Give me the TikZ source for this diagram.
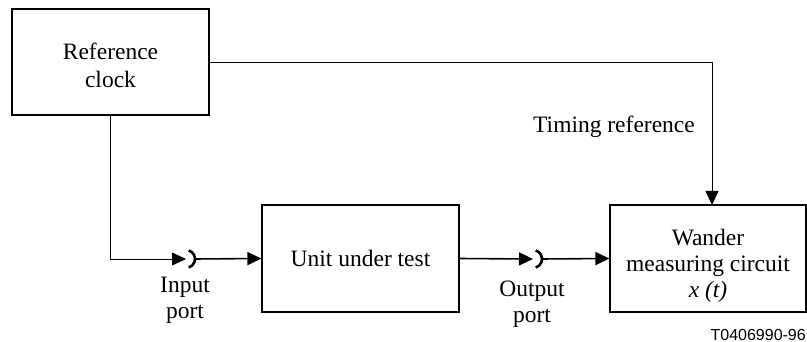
\documentclass[tikz,border=0pt]{standalone}
\usepackage{fontspec}
\setmainfont{Liberation Serif}
\newfontfamily\sansf{Liberation Sans}
\usetikzlibrary{arrows.meta}
\begin{document}
\begin{tikzpicture}[x=1pt,y=-1pt,
  box/.style={draw,line width=1.2pt,align=center,inner sep=0pt,font=\fontsize{23.5}{26}\selectfont},
  lbl/.style={align=center,inner sep=0pt,font=\fontsize{23.5}{26}\selectfont},
  arr/.style={line width=1.6pt,-{Triangle[length=14pt,width=13pt]}},
  thinarr/.style={line width=0.8pt,-{Triangle[length=14pt,width=13pt]}},
  portarc/.style={line width=2.6pt}]
\useasboundingbox (0,0) rectangle (807,342);
\node[box,minimum width=197pt,minimum height=106pt,text height=52pt] (clock) at (110.5,62) {Reference\\[2pt]clock};
\node[box,minimum width=197pt,minimum height=107pt] (uut) at (360.5,258.5) {Unit under test};
\node[box,minimum width=196pt,minimum height=107pt,text height=84pt] (wander) at (708,258.5) {Wander\\measuring circuit\\\textit{x (t)}};
\coordinate (inport) at (186,259);
\coordinate (inR) at (194,259);
\coordinate (outport) at (533,259);
\coordinate (outR) at (541,259);
\coordinate (tref) at (712,205);
\draw[thinarr] (clock.south) |- (inport);
\draw[portarc] (inport) ++(-72:9) arc[start angle=-72,end angle=72,radius=9];
\draw[arr] (inR) -- (uut.west);
\draw[arr] (uut.east) -- (outport);
\draw[portarc] (outport) ++(-72:9) arc[start angle=-72,end angle=72,radius=9];
\draw[arr] (outR) -- (wander.west);
\draw[thinarr] (clock.east) -| (tref);
\node[lbl,anchor=base east] (tlabel) at (695,133) {Timing reference};
\node[lbl,anchor=base] (inlbl) at (185,319) {Input\\port};
\node[lbl,anchor=base] (outlbl) at (532,322) {Output\\port};
\node[inner sep=0pt,anchor=base east,font=\sansf\fontsize{16}{18}\selectfont] (code) at (806,340) {T0406990-96};
\end{tikzpicture}
\end{document}
